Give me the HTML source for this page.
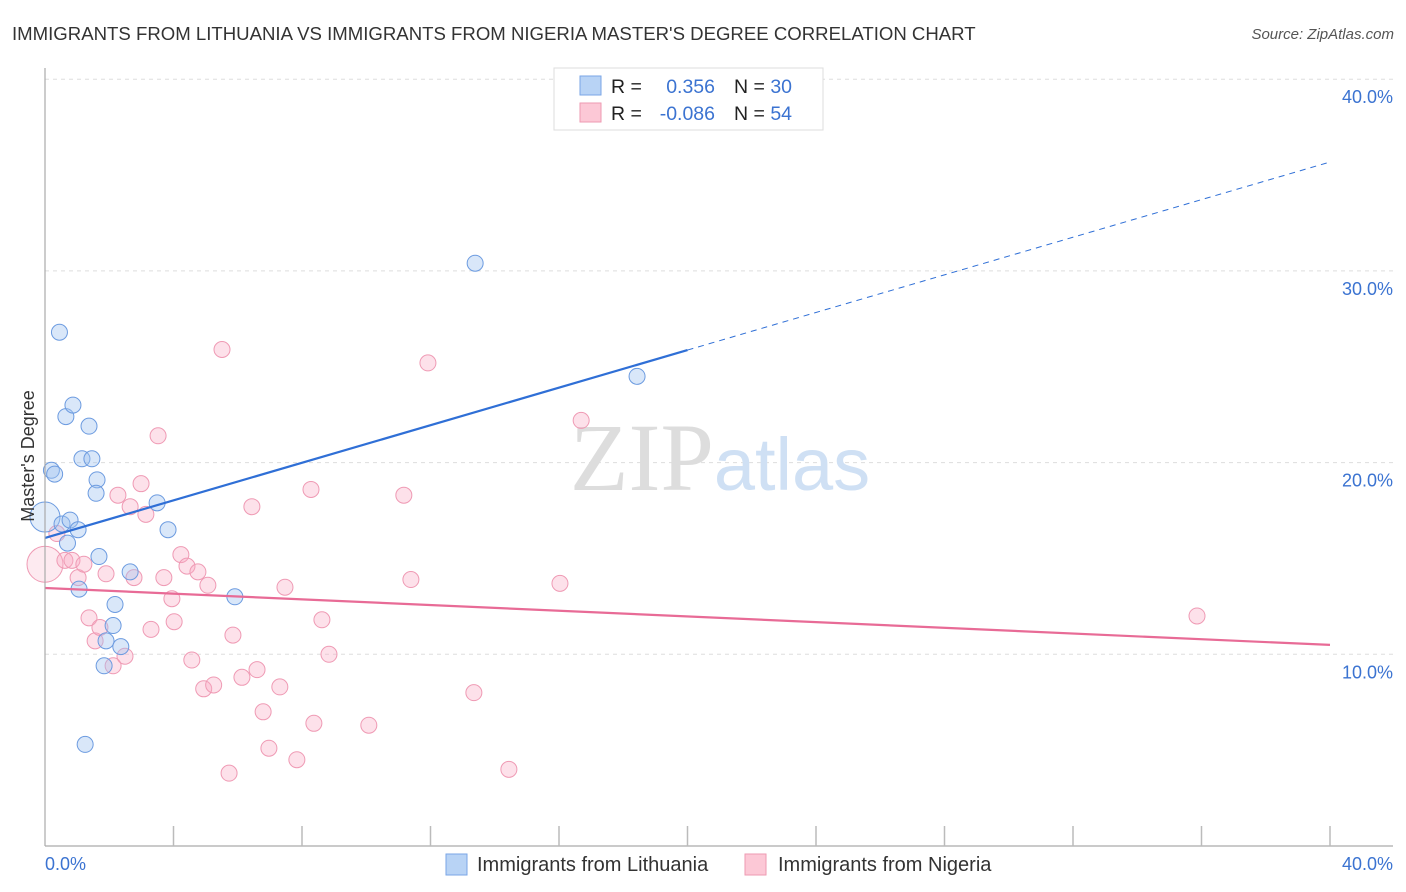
<!DOCTYPE html>
<html><head><meta charset="utf-8"><style>
body{margin:0;background:#fff;font-family:"Liberation Sans",sans-serif;}
</style></head><body>
<svg id="chart" width="1406" height="892" xmlns="http://www.w3.org/2000/svg" style="display:block">
<text x="12" y="40" font-size="18.6" fill="#333">IMMIGRANTS FROM LITHUANIA VS IMMIGRANTS FROM NIGERIA MASTER'S DEGREE CORRELATION CHART</text>
<text x="1394" y="39" font-size="15" fill="#555" font-style="italic" text-anchor="end">Source: ZipAtlas.com</text>
<g id="grid"></g>
<text x="720" y="490" text-anchor="middle" font-size="96" font-family="Liberation Serif" fill="#ddd">ZIP<tspan fill="#cfe0f4" font-family="Liberation Sans" font-size="74">atlas</tspan></text>
<g id="marks"></g>
<line x1="45" y1="68" x2="45" y2="846" stroke="#aaa" stroke-width="1.2"/>
<line x1="45" y1="846" x2="1393" y2="846" stroke="#aaa" stroke-width="1.2"/>
<text transform="translate(34,456) rotate(-90)" text-anchor="middle" font-size="18" fill="#333">Master's Degree</text>
<text x="45" y="870" font-size="18" fill="#3b73d1">0.0%</text>
<text x="1393" y="870" font-size="18" fill="#3b73d1" text-anchor="end">40.0%</text>
<g>
<rect x="554" y="68" width="269" height="62" fill="#fff" stroke="#ddd"/>
<rect x="580" y="76" width="21" height="19" fill="#b8d3f5" stroke="#7aa6e6"/>
<rect x="580" y="103" width="21" height="19" fill="#fcc8d6" stroke="#ee9ab2"/>
<text x="611" y="93" font-size="19.5" fill="#222">R =</text>
<text x="715" y="93" font-size="19.5" fill="#3b73d1" text-anchor="end">0.356</text>
<text x="734" y="93" font-size="19.5" fill="#222">N = <tspan fill="#3b73d1">30</tspan></text>
<text x="611" y="120" font-size="19.5" fill="#222">R =</text>
<text x="715" y="120" font-size="19.5" fill="#3b73d1" text-anchor="end">-0.086</text>
<text x="734" y="120" font-size="19.5" fill="#222">N = <tspan fill="#3b73d1">54</tspan></text>
</g>
<g>
<rect x="446" y="854" width="21" height="21" fill="#b8d3f5" stroke="#7aa6e6"/>
<text x="477" y="871" font-size="20" fill="#333">Immigrants from Lithuania</text>
<rect x="745" y="854" width="21" height="21" fill="#fcc8d6" stroke="#ee9ab2"/>
<text x="778" y="871" font-size="20" fill="#333">Immigrants from Nigeria</text>
</g>
</svg>
<script>
const yTicks=[10,20,30,40];
const yTickLabels=["10.0%","20.0%","30.0%","40.0%"];
const xTicks=[4,8,12,16,20,24,28,32,36,40];
const lithX=[0,0.2,0.3,0.45,0.65,0.87,1.37,1.15,1.46,1.62,1.59,0.53,0.78,1.03,0.7,1.68,1.06,2.18,2.12,1.9,2.36,1.84,1.25,2.65,3.49,3.83,5.91,13.39,18.43];
const lithY=[17.16,19.6,19.4,26.8,22.4,23.0,21.9,20.2,20.2,19.1,18.4,16.8,17.0,16.5,15.8,15.1,13.4,12.6,11.5,10.7,10.4,9.4,5.3,14.3,17.9,16.5,13.0,30.4,24.5];
const nigX=[0,0.37,0.62,0.84,1.03,1.21,1.37,1.56,1.71,2.12,2.49,1.9,2.27,2.65,2.77,2.99,3.14,3.3,3.52,3.7,3.95,4.02,4.23,4.42,4.76,5.07,4.57,4.94,5.25,5.51,5.73,5.85,6.13,6.44,6.6,6.79,6.97,7.31,7.47,7.84,8.28,8.37,8.62,8.84,10.08,11.17,11.39,11.92,13.35,14.44,16.03,16.69,35.86];
const nigY=[14.7,16.3,14.9,14.9,14.0,14.7,11.9,10.7,11.4,9.4,9.9,14.2,18.3,17.7,14.0,18.9,17.3,11.3,21.4,14.0,12.9,11.7,15.2,14.6,14.3,13.6,9.7,8.2,8.4,25.9,3.8,11.0,8.8,17.7,9.2,7.0,5.1,8.3,13.5,4.5,18.6,6.4,11.8,10.0,6.3,18.3,13.9,25.2,8.0,4.0,13.7,22.2,12.0];
const lithTrend=[16.07,25.87,35.68]; // at x=0,20,40
const nigTrend=[13.46,10.49]; // at x=0,40
const sx=v=>45+v*32.125;
const sy=v=>846-v*19.17;
const NS="http://www.w3.org/2000/svg";
function mk(tag,attrs,parent){const e=document.createElementNS(NS,tag);for(const k in attrs)e.setAttribute(k,attrs[k]);parent.appendChild(e);return e;}
const grid=document.getElementById('grid'),marks=document.getElementById('marks'),svg=document.getElementById('chart');
yTicks.forEach((t,i)=>{
 const l=mk('line',{x1:45,x2:1393,y1:sy(t),y2:sy(t),stroke:'#ddd','stroke-dasharray':'4,4'},grid);
 
 
 const tx=mk('text',{x:1393,y:sy(t)+24,'font-size':18,fill:'#3b73d1','text-anchor':'end'},svg);
 tx.textContent=yTickLabels[i];
 
 
});
xTicks.forEach(t=>{
 const l=mk('line',{x1:sx(t),x2:sx(t),y1:826,y2:846,stroke:'#bbb','stroke-width':1.5},svg);
 
 
});
nigX.forEach((x,i)=>{
 const c=mk('circle',{cx:sx(x),cy:sy(nigY[i]),r:i==0?18:8,fill:i==0?'rgba(248,170,195,0.25)':'rgba(248,170,195,0.35)',stroke:'#ef9ab4','stroke-width':1},marks);
 
 
});
lithX.forEach((x,i)=>{
 const c=mk('circle',{cx:sx(x),cy:sy(lithY[i]),r:i==0?15:8,fill:i==0?'rgba(160,195,240,0.3)':'rgba(160,195,240,0.4)',stroke:'#6c9be0','stroke-width':1},marks);
 
 
});
const bt=mk('line',{x1:sx(0),y1:sy(lithTrend[0]),x2:sx(20),y2:sy(lithTrend[1]),stroke:'#2f6fd6','stroke-width':2.2},marks);


const bd=mk('line',{x1:sx(20),y1:sy(lithTrend[1]),x2:sx(40),y2:sy(lithTrend[2]),stroke:'#2f6fd6','stroke-width':1,'stroke-dasharray':'6,5'},marks);


const pt=mk('line',{x1:sx(0),y1:sy(nigTrend[0]),x2:sx(40),y2:sy(nigTrend[1]),stroke:'#e86b96','stroke-width':2.2},marks);


</script>
</body></html>
